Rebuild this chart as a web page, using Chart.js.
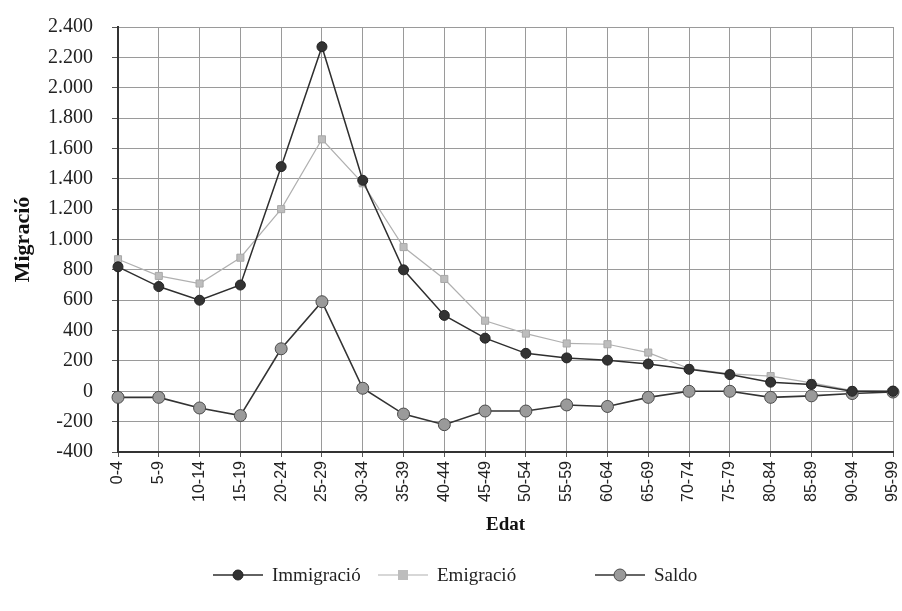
<!DOCTYPE html>
<html>
<head>
<meta charset="utf-8">
<script src="https://cdn.jsdelivr.net/npm/chart.js@4.4.1/dist/chart.umd.min.js"></script>
<style>
  body { margin: 0; background: #fff; }
  #chart { display: block; }
</style>
</head>
<body>
<canvas id="chart" width="902" height="611"></canvas>
<script>
// ---------- DATA ----------
const ageGroups = ["0-4", "5-9", "10-14", "15-19", "20-24", "25-29", "30-34", "35-39", "40-44", "45-49",
  "50-54", "55-59", "60-64", "65-69", "70-74", "75-79", "80-84", "85-89", "90-94", "95-99"];
const immigracio = [820, 690, 600, 700, 1480, 2270, 1390, 800, 500, 350, 250, 220, 205, 180, 145, 110, 60, 45, 0, 0];
const emigracio = [870, 760, 710, 880, 1200, 1660, 1370, 950, 740, 465, 380, 315, 310, 255, 150, 115, 100, 55, 5, 0];
const saldo = [-40, -40, -110, -160, 280, 590, 20, -150, -220, -130, -130, -90, -100, -40, 0, 0, -40, -30, -15, -5];
const yTicks = { min: -400, max: 2400, step: 200 };

const serif = "'Liberation Serif', 'DejaVu Serif', serif";
const sans = "'Liberation Sans', Arial, sans-serif";

// thousands with a dot, like the original (2.400)
function fmt(v) {
  return String(v).replace(/\B(?=(\d{3})+(?!\d))/g, ".");
}

const seriesStyle = [
  { label: "Immigració", data: immigracio, line: "#2e2e2e", fill: "#333", border: "#222", shape: "circle", r: 5, w: 1.5 },
  { label: "Emigració", data: emigracio, line: "#b0b0b0", fill: "#bdbdbd", border: "#a8a8a8", shape: "rect", r: 5, w: 1.2 },
  { label: "Saldo", data: saldo, line: "#333", fill: "#9a9a9a", border: "#4a4a4a", shape: "circle", r: 6, w: 1.6 },
];

// ---------- LEGEND (line + marker + text, drawn under the axis title) ----------
const legendPlugin = {
  id: "lineLegend",
  afterDraw(chart) {
    const ctx = chart.ctx;
    const y = 575;
    const starts = [213, 378, 595];
    ctx.save();
    seriesStyle.forEach((s, i) => {
      const x0 = starts[i];
      ctx.strokeStyle = s.line;
      ctx.lineWidth = s.w;
      ctx.beginPath();
      ctx.moveTo(x0, y);
      ctx.lineTo(x0 + 50, y);
      ctx.stroke();
      ctx.fillStyle = s.fill;
      ctx.strokeStyle = s.border;
      ctx.lineWidth = 1;
      const cx = x0 + 25;
      if (s.shape === "rect") {
        ctx.fillRect(cx - s.r, y - s.r, s.r * 2, s.r * 2);
      } else {
        ctx.beginPath();
        ctx.arc(cx, y, s.r, 0, Math.PI * 2);
        ctx.fill();
        ctx.stroke();
      }
      ctx.fillStyle = "#222";
      ctx.font = "19px " + serif;
      ctx.textBaseline = "middle";
      ctx.textAlign = "left";
      ctx.fillText(s.label, x0 + 59, y + 1);
    });
    ctx.restore();
  },
};

// ---------- CHART ----------
new Chart(document.getElementById("chart"), {
  type: "line",
  data: {
    labels: ageGroups,
    datasets: seriesStyle.map((s) => ({
      label: s.label,
      data: s.data,
      borderColor: s.line,
      borderWidth: s.w,
      backgroundColor: s.fill,
      pointBackgroundColor: s.fill,
      pointBorderColor: s.border,
      pointBorderWidth: 1,
      pointStyle: s.shape,
      pointRadius: s.r,
      tension: 0,
    })),
  },
  options: {
    responsive: false,
    animation: false,
    layout: { padding: { top: 27, right: 9, bottom: 71, left: 0 } },
    plugins: {
      legend: { display: false },
      tooltip: { enabled: false },
    },
    scales: {
      x: {
        offset: false,
        grid: { color: "#9a9a9a", lineWidth: 1, tickLength: 5, tickColor: "#555" },
        border: { color: "#333", width: 2 },
        ticks: {
          color: "#222",
          font: { family: sans, size: 16 },
          minRotation: 90,
          maxRotation: 90,
          autoSkip: false,
          padding: 4,
        },
        title: {
          display: true,
          text: "Edat",
          color: "#111",
          font: { family: serif, size: 19, weight: "bold" },
          padding: { top: 0, bottom: 4 },
        },
        afterFit(scale) {
          scale.height = 88;
          scale.paddingLeft = 0;
          scale.paddingRight = 0;
        },
      },
      y: {
        min: yTicks.min,
        max: yTicks.max,
        grid: { color: "#9a9a9a", lineWidth: 1, tickLength: 6, tickColor: "#555" },
        border: { color: "#333", width: 2 },
        ticks: {
          stepSize: yTicks.step,
          color: "#222",
          font: { family: serif, size: 20 },
          padding: 19,
          callback: (v) => fmt(v),
        },
        title: {
          display: true,
          text: "Migració",
          color: "#111",
          font: { family: serif, size: 22, weight: "bold" },
          padding: { top: 10, bottom: 0 },
        },
        afterFit(scale) {
          scale.width = 118;
          scale.paddingTop = 0;
          scale.paddingBottom = 0;
        },
      },
    },
  },
  plugins: [legendPlugin],
});
</script>
</body>
</html>
